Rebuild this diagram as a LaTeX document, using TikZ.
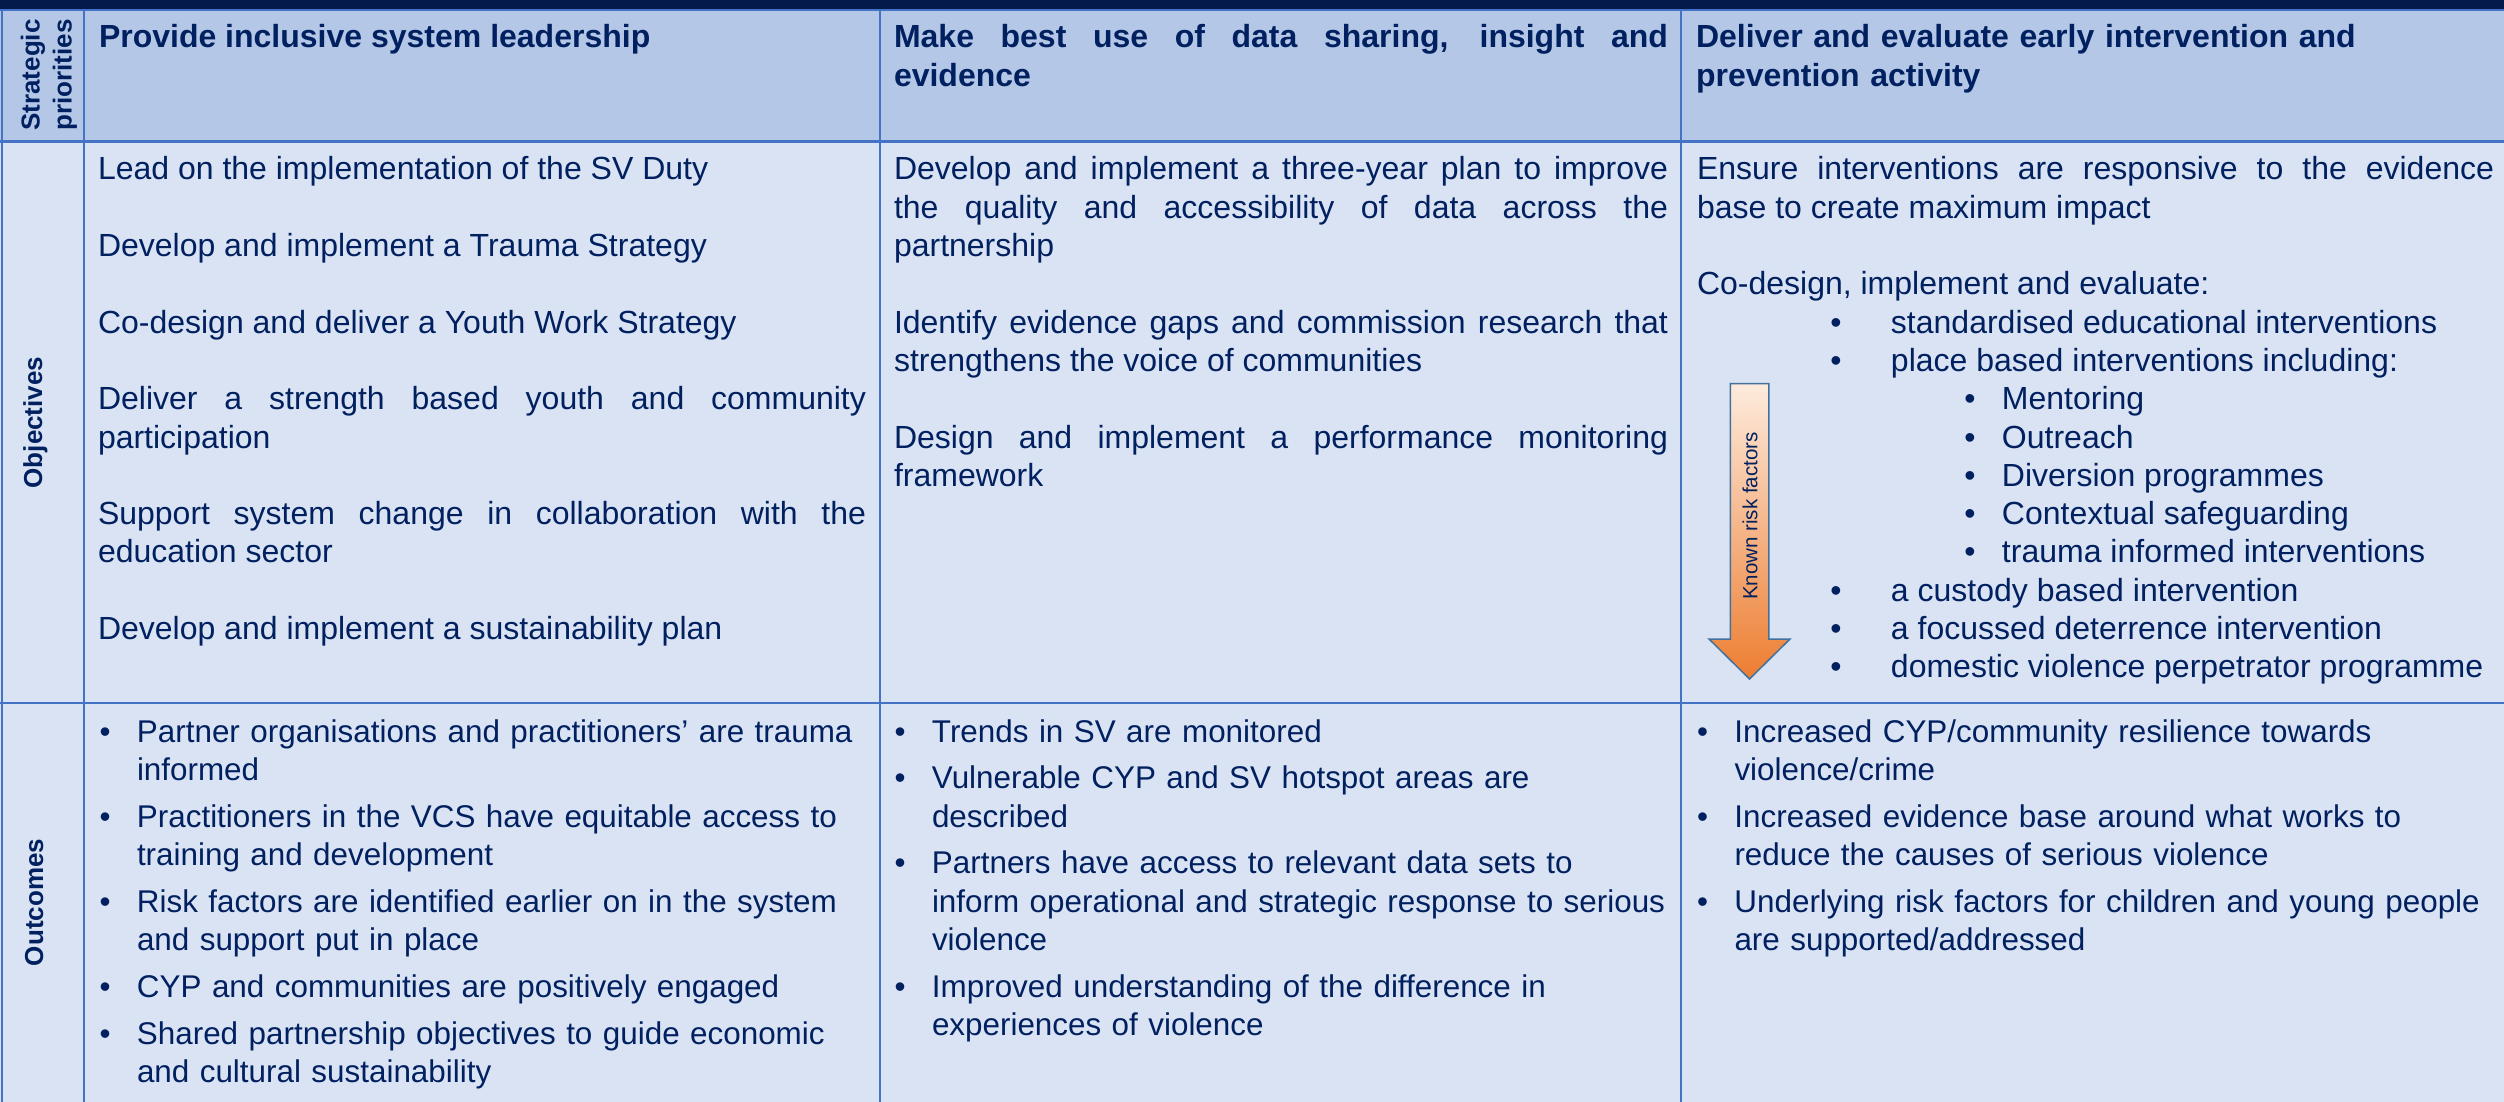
\documentclass[tikz,border=0pt]{standalone}
\usepackage{fontspec}
\setmainfont{Liberation Sans}
\definecolor{navy}{HTML}{002060}
\definecolor{band}{HTML}{031A4A}
\definecolor{hdrfill}{HTML}{B4C7E7}
\definecolor{bodyfill}{HTML}{DAE3F3}
\definecolor{gridc}{HTML}{4472C4}
\definecolor{arrowtop}{HTML}{FDEBDD}
\definecolor{arrowbot}{HTML}{ED7D31}
\definecolor{arrowline}{HTML}{41719C}
\hyphenpenalty=10000
\exhyphenpenalty=10000
\tolerance=10000
\hbadness=10000
\newcommand\bodyfont{\fontsize{32}{38.3}\selectfont}
\newcommand\outfont{\fontsize{31.4}{38.3}\selectfont}
\newcommand\gap{\par\vspace{38.3pt}}
\newcommand\lvl[3]{{\leftskip=#1pt\noindent\llap{\textbullet\hspace{#2pt}}#3\par}}
\newcommand\oitem[1]{\noindent\llap{\textbullet\hspace{26.5pt}}#1\par\vspace{8.5pt}}
\begin{document}
\begin{tikzpicture}[x=1pt,y=-1pt,
  txt/.style={inner sep=0pt, outer sep=0pt, text=navy, font=\bodyfont, anchor=base west},
  outtxt/.style={txt, font=\outfont, text width=820pt, align=left},
  hd/.style={txt, font=\bodyfont\bfseries},
  lab/.style={inner sep=0pt, text=navy, font=\fontsize{26}{32}\selectfont\bfseries, rotate=90},
  gridline/.style={draw=gridc, line width=2pt}]
\useasboundingbox (0,0) rectangle (2504,1102);
% backgrounds
\fill[bodyfill] (0,142) rectangle (2504,1102);
\fill[hdrfill] (0,9) rectangle (2504,142);
\fill[band] (0,0) rectangle (2504,9);
% grid
\draw[gridc, line width=1.5pt] (0,10) -- (2504,10);
\draw[gridline] (0,703) -- (2504,703);
\draw[gridline] (1.5,10) -- (1.5,1102);
\draw[gridline] (84,10) -- (84,1102);
\draw[gridline] (880,10) -- (880,1102);
\draw[gridline] (1681,10) -- (1681,1102);
\draw[gridc, line width=3pt] (0,142) -- (2504,142);
% arrow
\shadedraw[top color=arrowtop, bottom color=arrowbot, draw=arrowline, line width=1.5pt]
  (1730.25,383.5) -- (1768.75,383.5) -- (1768.75,639) -- (1790,639) -- (1749.5,679)
  -- (1709,639) -- (1730.25,639) -- cycle;
\node[inner sep=0pt, text=navy, font=\fontsize{20.5}{24}\selectfont, rotate=90] (risk) at (1750,516) {Known risk factors};
% row labels
\node[lab, align=center] (sp) at (49,75) {Strategic\\priorities};
\node[lab, anchor=base] (ob) at (42,422.5) {Objectives};
\node[lab, anchor=base] (oc) at (43,902.5) {Outcomes};
% headers
\node[hd] (h1) at (99,48) {Provide inclusive system leadership};
\node[hd, text width=774pt, align=justify] (h2) at (894,48) {Make best use of data sharing, insight and\linebreak evidence};
\node[hd, text width=790pt, align=left] (h3) at (1696,48) {Deliver and evaluate early intervention and\\prevention activity};
% objectives
\node[txt, text width=768pt, align=justify] (o1) at (98,180) {Lead on the implementation of the SV Duty\gap
Develop and implement a Trauma Strategy\gap
Co-design and deliver a Youth Work Strategy\gap
Deliver a strength based youth and community\linebreak participation\gap
Support system change in collaboration with the\linebreak education sector\gap
Develop and implement a sustainability plan};
\node[txt, text width=774pt, align=justify] (o2) at (894,180) {Develop and implement a three-year plan to improve\linebreak the quality and accessibility of data across the\linebreak partnership\gap
Identify evidence gaps and commission research that\linebreak strengthens the voice of communities\gap
Design and implement a performance monitoring\linebreak framework};
\node[txt, text width=797pt, align=justify] (o3) at (1697,180) {Ensure interventions are responsive to the evidence\linebreak base to create maximum impact\gap
Co-design, implement and evaluate:\par
\lvl{194}{49.4}{standardised educational interventions}
\lvl{194}{49.4}{place based interventions including:}
\lvl{305}{26.4}{Mentoring}
\lvl{305}{26.4}{Outreach}
\lvl{305}{26.4}{Diversion programmes}
\lvl{305}{26.4}{Contextual safeguarding}
\lvl{305}{26.4}{trauma informed interventions}
\lvl{194}{49.4}{a custody based intervention}
\lvl{194}{49.4}{a focussed deterrence intervention}
\lvl{194}{49.4}{domestic violence perpetrator programme}};
% outcomes
\node[outtxt] (u1) at (137,742) {%
\oitem{Partner organisations and practitioners’ are trauma\\informed}
\oitem{Practitioners in the VCS have equitable access to\\training and development}
\oitem{Risk factors are identified earlier on in the system\\and support put in place}
\oitem{CYP and communities are positively engaged}
\oitem{Shared partnership objectives to guide economic\\and cultural sustainability}};
\node[outtxt] (u2) at (932,742) {%
\oitem{Trends in SV are monitored}
\oitem{Vulnerable CYP and SV hotspot areas are\\described}
\oitem{Partners have access to relevant data sets to\\inform operational and strategic response to serious\\violence}
\oitem{Improved understanding of the difference in\\experiences of violence}};
\node[outtxt] (u3) at (1734.5,742) {%
\oitem{Increased CYP/community resilience towards\\violence/crime}
\oitem{Increased evidence base around what works to\\reduce the causes of serious violence}
\oitem{Underlying risk factors for children and young people\\are supported/addressed}};
\end{tikzpicture}
\end{document}
